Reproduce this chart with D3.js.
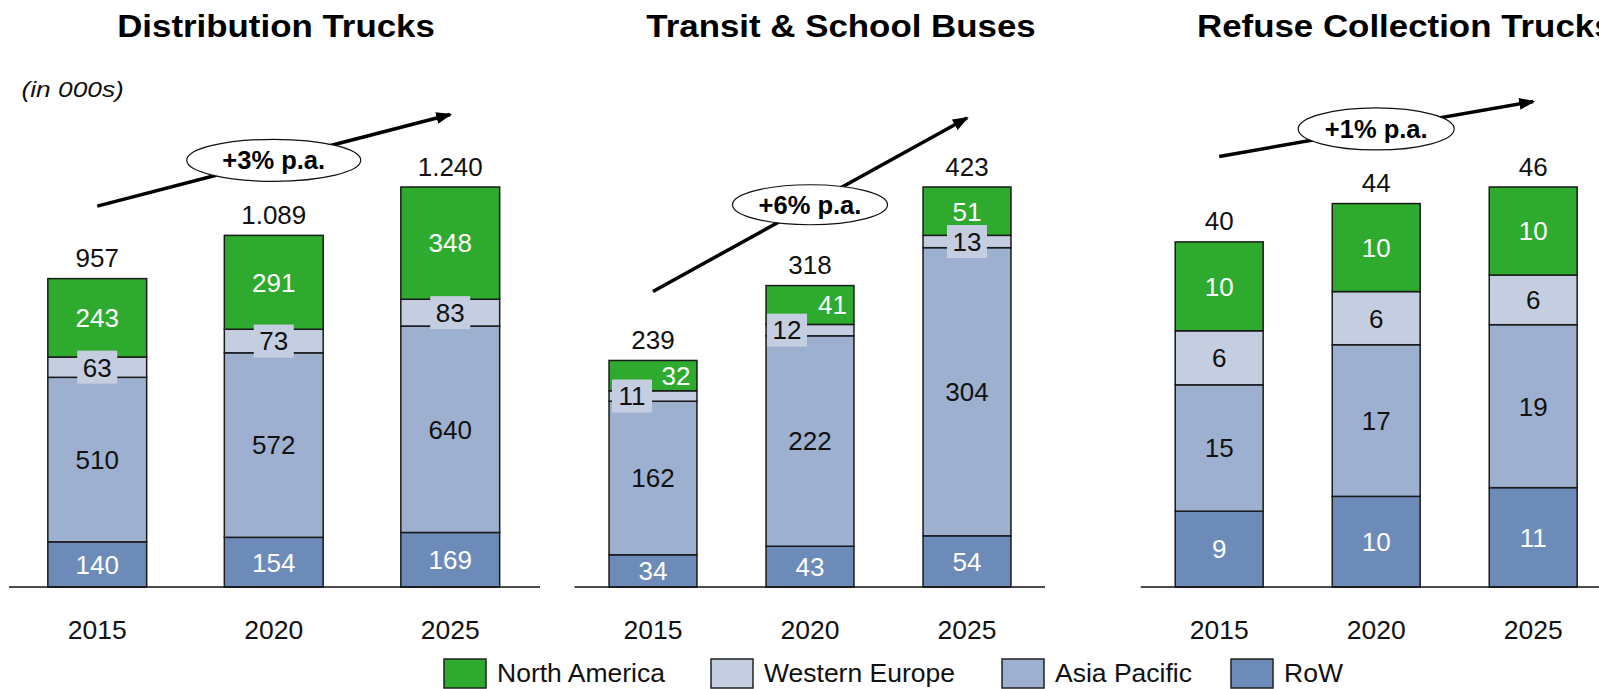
<!DOCTYPE html>
<html>
<head>
<meta charset="utf-8">
<script src="https://cdn.jsdelivr.net/npm/d3@7"></script>
<style>
  body { margin: 0; background: #fff; }
  svg { display: block; font-family: "Liberation Sans", Arial, sans-serif; }
</style>
</head>
<body>
<div id="chart"></div>
<script>
// values (in 000s), stacked bottom to top: RoW, Asia Pacific, Western Europe, North America
const years = ["2015", "2020", "2025"];
const regionNames = ["North America", "Western Europe", "Asia Pacific", "RoW"];

const distRoW = [140, 154, 169];
const distAsia = [510, 572, 640];
const distEurope = [63, 73, 83];
const distNorthAm = [243, 291, 348];
const distTotals = ["957", "1.089", "1.240"];

const busRoW = [34, 43, 54];
const busAsia = [162, 222, 304];
const busEurope = [11, 12, 13];
const busNorthAm = [32, 41, 51];
const busTotals = ["239", "318", "423"];

// refuse segments are not whole numbers in the picture, labels are rounded
const refuseRoW = [8.7, 10.4, 11.4];
const refuseAsia = [14.5, 17.4, 18.7];
const refuseEurope = [6.2, 6.1, 5.7];
const refuseNorthAm = [10.2, 10.1, 10.1];
const refuseTotals = ["40", "44", "46"];

const panelTitles = ["Distribution Trucks", "Transit & School Buses", "Refuse Collection Trucks"];
const growthLabels = ["+3% p.a.", "+6% p.a.", "+1% p.a."];

const svgWidth = 1599;
const svgHeight = 689;
const baseY = 587;
const topY = 187;

const colors = {
    "North America": "#2eaa2e",
    "Western Europe": "#c4cee0",
    "Asia Pacific": "#9db0cf",
    "RoW": "#6d8bb8"
};
const keys = ["RoW", "Asia Pacific", "Western Europe", "North America"];

// layout of each panel (pixels)
const panels = [
    { rows: [distRoW, distAsia, distEurope, distNorthAm], totals: distTotals,
      x0: 9, x1: 538.5, axisTo: 540, titleX: 276, titleAnchor: "middle",
      lift: 72.5, rx: 87, ry: 21, nudgeEurope: [0, 0, 0], nudgeNorth: [0, 0, 0] },
    { rows: [busRoW, busAsia, busEurope, busNorthAm], totals: busTotals,
      x0: 574.5, x1: 1045.5, axisTo: 1045, titleX: 841, titleAnchor: "middle",
      lift: 69, rx: 77.5, ry: 20, nudgeEurope: [-21, -23, 0], nudgeNorth: [23, 22.5, 0] },
    { rows: [refuseRoW, refuseAsia, refuseEurope, refuseNorthAm], totals: refuseTotals,
      x0: 1140.7, x1: 1611.7, axisTo: 1599, titleX: 1197, titleAnchor: "start",
      lift: 85.5, rx: 78, ry: 21, nudgeEurope: [0, 0, 0], nudgeNorth: [0, 0, 0] }
];

const svg = d3.select("#chart")
    .append("svg")
    .attr("width", svgWidth)
    .attr("height", svgHeight)
    .attr("viewBox", `0 0 ${svgWidth} ${svgHeight}`);

svg.append("defs").append("marker")
    .attr("id", "arrowHead")
    .attr("markerUnits", "userSpaceOnUse")
    .attr("viewBox", "0 0 16 12")
    .attr("refX", 14)
    .attr("refY", 6)
    .attr("markerWidth", 16)
    .attr("markerHeight", 12)
    .attr("orient", "auto")
    .append("path")
    .attr("d", "M0,0 L16,6 L0,12 Z")
    .attr("fill", "#000");

// the unit note is drawn a bit wider than normal in the original
svg.append("text")
    .text("(in 000s)")
    .attr("transform", "translate(21.5,97) scale(1.17,1)")
    .attr("font-size", "22.5px")
    .attr("font-style", "italic")
    .attr("fill", "#111");

panels.forEach(function (p, pi) {
    // turn the row arrays into one record per year
    const table = years.map(function (yr, i) {
        const rec = { year: yr };
        keys.forEach((k, ki) => rec[k] = p.rows[ki][i]);
        return rec;
    });
    const stacked = d3.stack().keys(keys)(table);
    const maxTotal = d3.max(table, d => d3.sum(keys, k => d[k]));

    const x = d3.scaleBand()
        .domain(years)
        .range([p.x0, p.x1])
        .paddingInner(0.44)
        .paddingOuter(0.22);
    const y = d3.scaleLinear()
        .domain([0, maxTotal])
        .range([baseY, topY]);

    const g = svg.append("g").attr("class", "panel");

    // title, stretched sideways like the source
    g.append("text")
        .text(panelTitles[pi])
        .attr("transform", `translate(${p.titleX},37) scale(1.125,1)`)
        .attr("text-anchor", p.titleAnchor)
        .attr("font-size", "31px")
        .attr("font-weight", "bold")
        .attr("fill", "#000");

    // stacked segments
    const layers = g.selectAll(".layer")
        .data(stacked)
        .enter()
        .append("g")
        .attr("class", "layer");

    layers.selectAll("rect")
        .data(d => d.map(s => ({ key: d.key, s: s })))
        .enter()
        .append("rect")
        .attr("x", d => x(d.s.data.year))
        .attr("y", d => y(d.s[1]))
        .attr("width", x.bandwidth())
        .attr("height", d => y(d.s[0]) - y(d.s[1]))
        .attr("fill", d => colors[d.key])
        .attr("stroke", "#1a1a1a")
        .attr("stroke-width", 1.5);

    // segment labels
    stacked.forEach(function (layer) {
        layer.forEach(function (s, i) {
            const val = s[1] - s[0];
            let cx = x(s.data.year) + x.bandwidth() / 2;
            const cy = (y(s[0]) + y(s[1])) / 2;
            if (layer.key === "Western Europe") cx += p.nudgeEurope[i];
            if (layer.key === "North America") cx += p.nudgeNorth[i];
            const label = String(Math.round(val));
            const light = layer.key === "North America" || layer.key === "RoW";
            if (layer.key === "Western Europe") {
                const w = label.length * 14.5 + 11;
                g.append("rect")
                    .attr("x", cx - w / 2)
                    .attr("y", cy - 16.5)
                    .attr("width", w)
                    .attr("height", 33)
                    .attr("fill", colors["Western Europe"]);
            }
            g.append("text")
                .text(label)
                .attr("x", cx)
                .attr("y", cy)
                .attr("dy", "0.36em")
                .attr("text-anchor", "middle")
                .attr("font-size", "26px")
                .attr("fill", light ? "#fff" : "#111");
        });
    });

    // totals above the bars
    const topLayer = stacked[stacked.length - 1];
    g.selectAll(".total")
        .data(topLayer)
        .enter()
        .append("text")
        .attr("class", "total")
        .text((d, i) => p.totals[i])
        .attr("x", d => x(d.data.year) + x.bandwidth() / 2)
        .attr("y", d => y(d[1]) - 11.5)
        .attr("text-anchor", "middle")
        .attr("font-size", "26px")
        .attr("fill", "#111");

    // baseline and year labels
    g.append("line")
        .attr("x1", p.x0)
        .attr("x2", p.axisTo)
        .attr("y1", baseY)
        .attr("y2", baseY)
        .attr("stroke", "#111")
        .attr("stroke-width", 1.5);

    const axis = g.append("g")
        .attr("transform", `translate(0,${baseY})`)
        .call(d3.axisBottom(x).tickSize(0).tickPadding(33));
    axis.select(".domain").remove();
    axis.selectAll("text")
        .attr("font-size", "26.5px")
        .attr("font-family", "Liberation Sans, Arial, sans-serif")
        .attr("fill", "#111");

    // growth arrow from first to last bar
    const first = topLayer[0], last = topLayer[topLayer.length - 1];
    const ax1 = x(first.data.year) + x.bandwidth() / 2;
    const ay1 = y(first[1]) - p.lift;
    const ax2 = x(last.data.year) + x.bandwidth() / 2;
    const ay2 = y(last[1]) - p.lift;
    g.append("line")
        .attr("x1", ax1).attr("y1", ay1)
        .attr("x2", ax2).attr("y2", ay2)
        .attr("stroke", "#000")
        .attr("stroke-width", 3.5)
        .attr("marker-end", "url(#arrowHead)");

    const ex = (ax1 + ax2) / 2, ey = (ay1 + ay2) / 2;
    g.append("ellipse")
        .attr("cx", ex).attr("cy", ey)
        .attr("rx", p.rx).attr("ry", p.ry)
        .attr("fill", "#fff")
        .attr("stroke", "#111")
        .attr("stroke-width", 1.2);
    g.append("text")
        .text(growthLabels[pi])
        .attr("x", ex)
        .attr("y", ey)
        .attr("dy", "0.36em")
        .attr("text-anchor", "middle")
        .attr("font-size", "25.5px")
        .attr("font-weight", "bold")
        .attr("fill", "#000");
});

// legend
const legendX = [444, 711, 1002, 1231];
const legend = svg.append("g")
    .selectAll("g")
    .data(regionNames)
    .enter()
    .append("g")
    .attr("transform", (d, i) => `translate(${legendX[i]},659)`);

legend.append("rect")
    .attr("width", 42)
    .attr("height", 29)
    .attr("fill", d => colors[d])
    .attr("stroke", "#222")
    .attr("stroke-width", 1.5);

legend.append("text")
    .text(d => d)
    .attr("x", 53)
    .attr("y", 23)
    .attr("font-size", "26.5px")
    .attr("fill", "#111");
</script>
</body>
</html>
